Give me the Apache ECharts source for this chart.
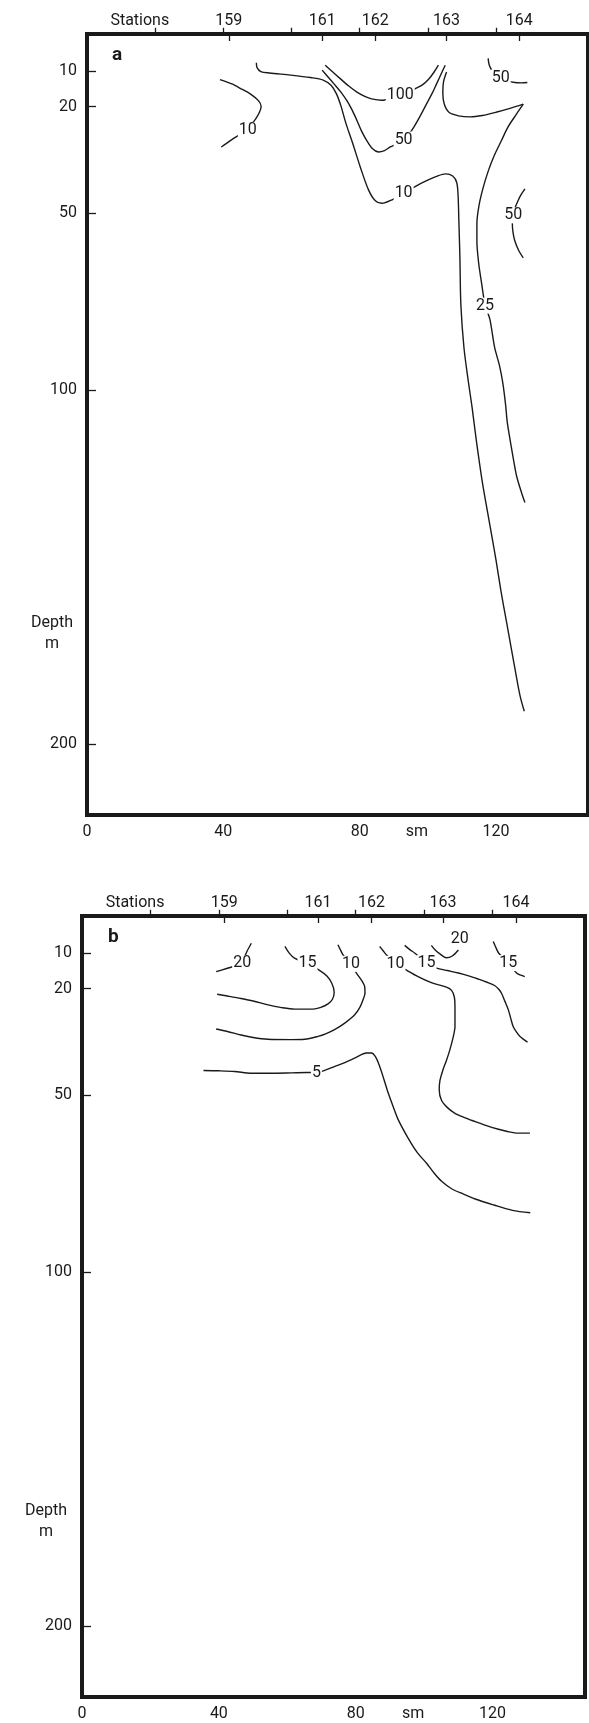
<!DOCTYPE html>
<html>
<head>
<meta charset="utf-8">
<script src="https://cdn.jsdelivr.net/npm/echarts@6.0.0/dist/echarts.min.js"></script>
<style>html,body{margin:0;padding:0;background:#fff}#c{width:589px;height:1723px}</style>
</head>
<body>
<div id="c"></div>
<script>
// ---------- axes ----------
const depthTicks = [10, 20, 50, 100, 200];
const depthMin = -0.5, depthMax = 220;
const distMin = 0, distMax = 147;
const distTicks = [20, 40, 60, 80, 100, 120];
const distLabels = [0, 40, 80, 120];
const distUnitPos = 96.8, distUnitText = 'sm';
const stationPos = [41.6, 69, 84.6, 105.5, 126.8];
const stationNames = ['159', '161', '162', '163', '164'];
const stationsTitlePos = 15.5, stationsTitle = 'Stations';

// ---------- panel a: contour lines [distance sm, depth m] ----------
const a10West = [[39.0,12.4],[42.5,13.6],[45.1,14.9],[48.2,16.6],[50.3,18.3],[51.1,19.9],[50.6,21.6],[49.4,23.6],[47.6,25.7],[45.5,27.5],[42.5,29.3],[39.4,31.4]];
const a10Main = [[49.7,7.6],[49.9,9.0],[51.0,10.1],[53.5,10.5],[59.7,11.1],[65.6,11.8],[69.3,12.5],[71.6,14.0],[73.2,16.4],[74.5,19.8],[76.0,24.8],[78.0,30.5],[80.2,37.1],[82.6,43.5],[84.6,46.6],[86.5,47.3],[89.5,46.3],[92.9,44.4],[96.0,42.7],[99.5,41.0],[102.6,39.7],[105.2,39.0],[107.3,39.6],[108.5,41.5],[108.9,45.5],[109.1,52],[109.4,62],[109.7,76],[110.6,88],[111.8,97],[113.0,105],[114.2,114],[116.0,126],[118.0,137],[120.0,148],[121.5,157],[123.0,165],[124.5,173],[126.0,181],[127.1,186.5],[128.3,190.7]];
const a25Upper = [[105.5,10.2],[104.6,13.0],[104.4,16.0],[104.8,19.2],[106.2,21.6],[109.0,22.6],[112.5,22.9],[116.0,22.5],[120.0,21.6],[124.1,20.5],[128.0,19.3]];
const a25Lower = [[128.0,19.3],[125.8,22.4],[123.5,25.8],[121.5,29.8],[119.5,33.8],[117.8,38],[116.2,43],[115.0,48],[114.4,53],[114.4,58],[114.9,64],[115.8,70],[116.8,76],[118.2,80],[119.6,88],[121.0,93],[122.0,98],[122.8,104],[123.3,109],[124.3,115],[125.2,120],[126.1,124.5],[127.5,129],[128.5,131.8]];
const a100 = [[69.9,8.3],[72.2,10.3],[74.3,12.1],[76.8,14.2],[79.2,15.9],[81.5,17.1],[83.5,17.8],[86.5,18.2],[89.2,17.7],[91.9,16.7],[94.5,15.8],[96.6,14.8],[98.5,13.8],[100.3,12.2],[101.8,10.3],[103.1,8.3]];
const a50Mid = [[69.0,9.7],[70.6,11.5],[72.4,13.5],[74.5,15.9],[76.3,18.4],[77.8,21.0],[79.2,23.9],[80.6,27.0],[82.1,29.6],[83.8,31.9],[85.5,32.8],[87.3,32.4],[89.0,31.4],[91.2,30.4],[92.9,29.3],[94.6,27.6],[95.9,25.8],[97.9,22.4],[99.7,19.1],[101.3,16.2],[102.6,13.5],[104.0,10.6],[105.1,8.3]];
const a50NE = [[117.7,6.4],[118.0,8.2],[118.8,9.8],[120.2,11.2],[121.8,12.2],[123.5,12.8],[125.5,13.2],[127.5,13.3],[129.2,13.2]];
const a50E = [[128.5,43.2],[127.4,44.8],[126.5,46.5],[125.6,48.6],[125.1,50.7],[124.8,53.1],[125.0,55.5],[125.5,57.8],[126.6,60.5],[128.0,62.7]];
const aLabels = [['10',47.2,26.6],['100',91.9,16.7],['50',92.9,29.3],['10',92.9,44.3],['50',121.4,11.8],['50',125.1,50.7],['25',116.8,76.2]];

// ---------- panel b: contour lines ----------
const b20West = [[49.5,7.2],[48.3,9.3],[47.2,11.5],[45.5,13.3],[43.0,14.1],[41.0,14.7],[39.2,15.2]];
const b15West = [[59.3,8.1],[60.5,9.9],[62.1,11.4],[65.9,12.9],[69.2,14.7],[71.5,16.4],[73.0,18.5],[73.7,21.0],[73.2,23.0],[71.9,24.3],[69.8,25.3],[67.5,25.8],[62.2,25.8],[58.0,25.3],[54.4,24.6],[50.0,23.5],[46.5,22.8],[42.5,22.1],[39.5,21.6]];
const b10West = [[74.8,7.6],[75.6,9.2],[76.3,10.5],[78.6,13.0],[80.2,15.6],[81.8,17.8],[82.6,19.4],[82.7,21.3],[82.1,23.2],[81.2,25.3],[79.7,27.4],[77.0,29.6],[73.8,31.6],[71.2,32.8],[69.0,33.5],[65.1,34.3],[61.2,34.4],[54.3,34.3],[50.0,33.8],[46.5,33.1],[42.5,32.1],[39.2,31.4]];
const b5 = [[35.5,43.1],[40.0,43.2],[44.6,43.4],[49.5,43.9],[55.0,43.9],[61.2,43.8],[65.6,43.7],[68.5,43.7],[70.9,43.1],[73.8,42.0],[76.8,40.9],[80.0,39.5],[83.1,38.2],[84.6,38.2],[85.8,39.3],[87.0,42.0],[88.2,45.5],[89.5,49.5],[91.0,53.5],[92.4,57.0],[95.3,62.2],[98.0,66.3],[100.7,69.3],[103.0,72.2],[105.1,74.4],[108.0,76.5],[111.5,78.0],[114.9,79.4],[120.4,81.1],[125.8,82.6],[131.0,83.3]];
const b10East = [[87.0,8.1],[88.0,9.3],[89.0,10.5],[91.6,13.0],[94.3,14.5],[98.2,16.6],[102.1,18.3],[106.5,19.6],[108.0,20.5],[108.8,22.3],[109.0,25.1],[109.0,30.7],[108.4,34.0],[107.5,37.3],[106.5,40.3],[105.5,42.9],[104.6,46.0],[104.4,48.6],[105.1,51.6],[106.8,53.6],[109.0,55.2],[111.8,56.4],[114.8,57.5],[118.2,58.7],[121.7,59.7],[124.6,60.4],[127.5,60.8],[130.9,60.8]];
const b15Mid = [[94.3,7.8],[95.8,9.0],[97.3,10.0],[100.7,12.8],[103.6,14.2],[106.8,14.9],[110.0,15.6],[113.0,16.4],[115.8,17.3],[118.4,18.2],[120.7,19.2],[121.8,20.2],[122.6,21.3],[123.6,23.6],[124.6,26.0],[125.3,28.4],[126.0,30.7],[127.0,32.3],[128.0,33.5],[130.2,35.1]];
const b20East = [[102.1,7.8],[103.3,9.2],[104.6,10.2],[106.5,11.3],[108.2,10.8],[110.0,9.1]];
const b15East = [[120.2,6.7],[121.0,8.5],[121.8,10.0],[124.6,12.8],[127.0,15.6],[128.2,16.2],[129.4,16.6]];
const bLabels = [['20',46.8,12.8],['15',65.9,12.9],['10',78.6,13.0],['10',91.6,13.0],['15',100.7,12.8],['20',110.4,6.0],['15',124.6,12.8],['5',68.5,43.7]];

// ---------- build ----------
const INK = '#1a1a1a';
const FONT = 'Roboto, "Liberation Sans", sans-serif';

function bottomAxis(gridIndex) {
  return {
    type: 'value', gridIndex, position: 'bottom', min: distMin, max: distMax,
    axisLine: { show: false }, splitLine: { show: false },
    axisTick: { show: true, inside: true, length: 8, customValues: distTicks, lineStyle: { color: INK, width: 1.3 } },
    axisLabel: {
      show: true, margin: 9, color: INK, fontSize: 16, fontFamily: FONT,
      customValues: distLabels.concat([distUnitPos]),
      formatter: v => (Math.abs(v - distUnitPos) < 1e-6 ? distUnitText : String(v))
    }
  };
}
function topAxis(gridIndex) {
  return {
    type: 'value', gridIndex, position: 'top', min: distMin, max: distMax,
    axisLine: { show: false }, splitLine: { show: false },
    axisTick: { show: true, inside: true, length: 7, customValues: stationPos, lineStyle: { color: INK, width: 1.3 } },
    axisLabel: {
      show: true, margin: 5, color: INK, fontSize: 16, fontFamily: FONT,
      customValues: [stationsTitlePos].concat(stationPos),
      formatter: v => {
        if (Math.abs(v - stationsTitlePos) < 1e-6) return stationsTitle;
        const i = stationPos.findIndex(p => Math.abs(p - v) < 1e-6);
        return i >= 0 ? stationNames[i] : '';
      }
    }
  };
}
function depthAxis(gridIndex) {
  return {
    type: 'value', gridIndex, inverse: true, min: depthMin, max: depthMax,
    axisLine: { show: false }, splitLine: { show: false },
    axisTick: { show: true, inside: true, length: 9, customValues: depthTicks, lineStyle: { color: INK, width: 1.3 } },
    axisLabel: { show: true, margin: 10, color: INK, fontSize: 16, fontFamily: FONT, customValues: depthTicks }
  };
}
function contour(panel, data) {
  return {
    type: 'line', xAxisIndex: panel * 2, yAxisIndex: panel, data,
    smooth: 0.3, symbol: 'none', showSymbol: false, silent: true,
    lineStyle: { color: INK, width: 1.4 }, z: 2
  };
}
function labels(panel, list) {
  return {
    type: 'scatter', xAxisIndex: panel * 2, yAxisIndex: panel, silent: true, z: 10,
    symbolSize: 1, itemStyle: { color: '#ffffff', opacity: 1 },
    data: list.map(l => ({ name: l[0], value: [l[1], l[2]] })),
    label: {
      show: true, position: 'inside', formatter: p => p.name,
      color: INK, opacity: 1, fontSize: 16, fontFamily: FONT, fontWeight: 'normal',
      backgroundColor: '#fff', padding: [0, 1], textBorderWidth: 0
    }
  };
}

const aLines = [a10West, a10Main, a25Upper, a25Lower, a100, a50Mid, a50NE, a50E];
const bLines = [b20West, b15West, b10West, b5, b10East, b15Mid, b20East, b15East];

const gridStyle = { show: true, borderColor: INK, borderWidth: 4, backgroundColor: 'transparent', containLabel: false, outerBoundsMode: 'none' };

const option = {
  animation: false,
  backgroundColor: '#fff',
  grid: [
    Object.assign({ left: 87, top: 34, width: 501, height: 781 }, gridStyle),
    Object.assign({ left: 82, top: 916, width: 503, height: 781 }, gridStyle)
  ],
  xAxis: [bottomAxis(0), topAxis(0), bottomAxis(1), topAxis(1)],
  yAxis: [depthAxis(0), depthAxis(1)],
  series: aLines.map(d => contour(0, d))
    .concat(bLines.map(d => contour(1, d)))
    .concat([labels(0, aLabels), labels(1, bLabels)]),
  graphic: [
    { type: 'text', left: 112, top: 46, style: { text: 'a', font: 'bold 19px ' + FONT, fill: INK } },
    { type: 'text', left: 108, top: 928, style: { text: 'b', font: 'bold 19px ' + FONT, fill: INK } },
    { type: 'text', x: 52, y: 623, style: { text: 'Depth', font: '16px ' + FONT, fill: INK, align: 'center', verticalAlign: 'middle' } },
    { type: 'text', x: 52, y: 644, style: { text: 'm', font: '16px ' + FONT, fill: INK, align: 'center', verticalAlign: 'middle' } },
    { type: 'text', x: 46, y: 1511, style: { text: 'Depth', font: '16px ' + FONT, fill: INK, align: 'center', verticalAlign: 'middle' } },
    { type: 'text', x: 46, y: 1532, style: { text: 'm', font: '16px ' + FONT, fill: INK, align: 'center', verticalAlign: 'middle' } }
  ]
};

const chart = echarts.init(document.getElementById('c'), null, { renderer: 'canvas' });
chart.setOption(option);
</script>
</body>
</html>
